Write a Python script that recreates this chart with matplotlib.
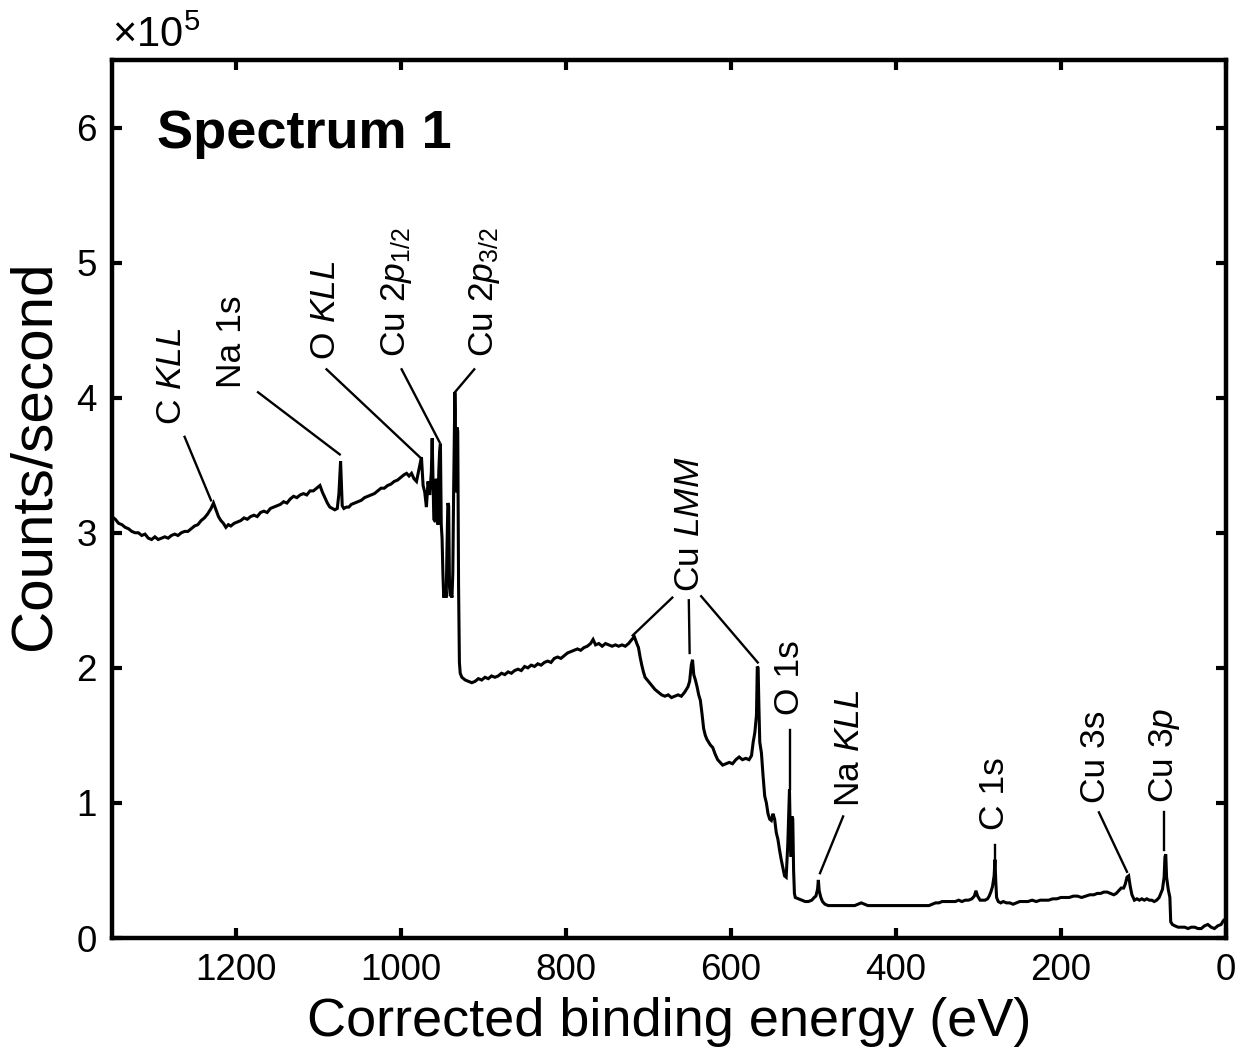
import numpy as np
import matplotlib
matplotlib.use('Agg')
import matplotlib.pyplot as plt

plt.rcParams['font.family'] = ['Liberation Sans', 'DejaVu Sans']
plt.rcParams['mathtext.fontset'] = 'custom'
plt.rcParams['mathtext.rm'] = 'Liberation Sans'
plt.rcParams['mathtext.it'] = 'Liberation Sans:italic'
plt.rcParams['mathtext.bf'] = 'Liberation Sans:bold'

# ---- spectrum data: (binding energy eV, counts/s in units of 1e5) ----
survey_high = [
    (1350, 3.12), (1346, 3.10), (1342, 3.07), (1338, 3.06), (1334, 3.04), (1330, 3.03),
    (1326, 3.01), (1322, 3.00), (1318, 3.00), (1314, 2.98), (1310, 2.99), (1306, 2.96),
    (1302, 2.95), (1298, 2.97), (1294, 2.95), (1290, 2.96), (1286, 2.97), (1282, 2.96),
    (1278, 2.98), (1274, 2.99), (1270, 2.98), (1266, 3.00), (1262, 3.01), (1258, 3.01),
    (1254, 3.03), (1250, 3.05), (1246, 3.06), (1242, 3.09), (1238, 3.11), (1234, 3.14),
    (1230, 3.18), (1227, 3.22), (1224, 3.17), (1221, 3.12), (1218, 3.09), (1215, 3.07),
    (1212, 3.04), (1209, 3.06), (1206, 3.05), (1202, 3.07), (1198, 3.08), (1194, 3.09),
    (1190, 3.11), (1186, 3.10), (1182, 3.12), (1178, 3.13), (1174, 3.12), (1170, 3.15),
    (1166, 3.16), (1162, 3.15), (1158, 3.18), (1154, 3.19), (1150, 3.20), (1146, 3.21),
    (1142, 3.23), (1138, 3.22), (1134, 3.25), (1130, 3.27), (1126, 3.26), (1122, 3.28),
    (1118, 3.29), (1114, 3.28), (1110, 3.31), (1106, 3.31), (1102, 3.33), (1098, 3.35),
    (1095, 3.30), (1092, 3.26), (1089, 3.22), (1086, 3.19), (1083, 3.18), (1080, 3.17),
    (1077, 3.18), (1075, 3.29), (1073, 3.53), (1071, 3.20), (1069, 3.18), (1066, 3.19),
    (1063, 3.19), (1060, 3.21), (1056, 3.22), (1052, 3.23), (1048, 3.24), (1044, 3.26),
    (1040, 3.27), (1036, 3.28), (1032, 3.29), (1028, 3.31), (1024, 3.33), (1020, 3.33),
    (1016, 3.35), (1012, 3.36), (1008, 3.38), (1004, 3.39), (1000, 3.41), (996, 3.43),
    (993, 3.44), (990, 3.42), (987, 3.44), (984, 3.40), (981, 3.38),
]

cu2p_region = [
    (978, 3.47), (975, 3.56), (973, 3.35), (971, 3.30), (969, 3.19), (967, 3.38),
    (965, 3.28), (963, 3.45), (962, 3.70), (961, 3.40), (960, 3.10), (958, 3.08),
    (957, 3.40), (955, 3.06), (954, 3.45), (953, 3.60), (952, 3.66), (951, 3.06),
    (950, 2.96), (949, 2.70), (948, 2.52), (947, 2.55), (946, 2.58), (945, 2.52),
    (944, 2.90), (943, 3.22), (942, 3.20), (941, 2.60), (940, 2.53), (939, 2.55),
    (938, 2.52), (937, 2.70), (936, 3.30), (935, 3.80), (934.5, 4.04), (934, 3.90),
    (933, 3.30), (932, 3.78), (931, 3.75), (930, 2.60), (929, 2.04), (928, 1.96),
    (926, 1.93),
]

background_mid = [
    (922, 1.91), (918, 1.90), (914, 1.89), (910, 1.90), (906, 1.92), (902, 1.91),
    (898, 1.93), (894, 1.92), (890, 1.94), (886, 1.93), (882, 1.94), (878, 1.96),
    (874, 1.95), (870, 1.97), (866, 1.96), (862, 1.98), (858, 1.99), (854, 1.98),
    (850, 2.01), (846, 2.00), (842, 2.02), (838, 2.01), (834, 2.03), (830, 2.02),
    (826, 2.04), (822, 2.05), (818, 2.04), (814, 2.07), (810, 2.08), (806, 2.07),
    (802, 2.09), (798, 2.11), (794, 2.12), (790, 2.13), (786, 2.14), (782, 2.13),
    (778, 2.15), (774, 2.16), (770, 2.18), (767, 2.21), (764, 2.17), (760, 2.18),
    (756, 2.16), (752, 2.18), (748, 2.17), (744, 2.16), (740, 2.17), (736, 2.16),
    (732, 2.17), (728, 2.16), (724, 2.18), (720, 2.21),
]

lmm_o1s_region = [
    (717, 2.23), (714, 2.18), (712, 2.15), (710, 2.08), (708, 2.02), (706, 1.97),
    (704, 1.93), (700, 1.90), (696, 1.87), (692, 1.84), (688, 1.82), (684, 1.80),
    (680, 1.79), (676, 1.80), (672, 1.78), (668, 1.79), (664, 1.80), (660, 1.79),
    (656, 1.82), (652, 1.86), (650, 1.90), (648, 2.02), (646.5, 2.06), (645, 1.95),
    (643, 1.91), (641, 1.86), (639, 1.80), (637, 1.76), (635, 1.66), (633, 1.55),
    (631, 1.50), (629, 1.47), (627, 1.45), (625, 1.43), (622, 1.41), (619, 1.36),
    (616, 1.32), (613, 1.30), (610, 1.28), (606, 1.29), (602, 1.30), (598, 1.29),
    (594, 1.32), (590, 1.34), (586, 1.32), (582, 1.33), (578, 1.32), (575, 1.35),
    (573, 1.45), (571, 1.52), (569, 1.65), (568, 2.01), (567, 2.00), (566, 1.70),
    (565, 1.45), (563, 1.37), (561, 1.20), (559, 1.05), (557, 1.00), (555, 0.92),
    (553, 0.88), (551, 0.87), (549, 0.92), (547, 0.88), (545, 0.78), (543, 0.73),
    (541, 0.65), (539, 0.58), (537, 0.52), (535, 0.46), (533, 0.45), (531, 0.70),
    (529, 1.10), (528, 0.75), (527, 0.60), (526, 0.90), (525, 0.88), (524, 0.50),
    (523, 0.33),
]

survey_low = [
    (522, 0.30), (518, 0.29), (514, 0.28), (510, 0.27), (506, 0.27), (502, 0.28),
    (499, 0.30), (497, 0.31), (495, 0.36), (494, 0.43), (493, 0.35), (491, 0.30),
    (489, 0.27), (486, 0.25), (482, 0.24), (478, 0.24), (474, 0.24), (470, 0.24),
    (466, 0.24), (462, 0.24), (458, 0.24), (454, 0.24), (450, 0.24), (446, 0.25),
    (442, 0.26), (438, 0.25), (434, 0.24), (430, 0.24), (425, 0.24), (420, 0.24),
    (415, 0.24), (410, 0.24), (405, 0.24), (400, 0.24), (395, 0.24), (390, 0.24),
    (385, 0.24), (380, 0.24), (375, 0.24), (370, 0.24), (365, 0.24), (360, 0.24),
    (356, 0.25), (352, 0.26), (348, 0.26), (344, 0.27), (340, 0.27), (336, 0.27),
    (332, 0.27), (328, 0.27), (324, 0.28), (320, 0.27), (316, 0.28), (312, 0.28),
    (308, 0.29), (305, 0.31), (303, 0.35), (301, 0.31), (298, 0.28), (295, 0.28),
    (292, 0.28), (289, 0.29), (287, 0.31), (285, 0.34), (283, 0.38), (281, 0.46),
    (280, 0.58), (279, 0.42), (278, 0.30), (276, 0.27), (273, 0.26), (270, 0.27),
    (266, 0.26), (262, 0.26), (258, 0.25), (254, 0.26), (250, 0.27), (245, 0.27),
    (240, 0.27), (235, 0.28), (230, 0.27), (225, 0.28), (220, 0.28), (215, 0.28),
    (210, 0.29), (205, 0.29), (200, 0.30), (195, 0.30), (190, 0.30), (185, 0.31),
    (180, 0.31), (175, 0.30), (170, 0.31), (165, 0.32), (160, 0.32), (156, 0.33),
    (152, 0.33), (148, 0.34), (144, 0.34), (140, 0.33), (136, 0.32), (133, 0.33),
    (130, 0.35), (127, 0.37), (124, 0.37), (122, 0.40), (120, 0.45), (118, 0.46),
    (116, 0.38), (114, 0.32), (111, 0.28), (108, 0.29), (105, 0.28), (102, 0.29),
    (99, 0.28), (96, 0.29), (93, 0.28), (90, 0.28), (87, 0.27), (84, 0.28),
    (81, 0.30), (79, 0.33), (77, 0.36), (75, 0.45), (74, 0.60), (73, 0.62),
    (72, 0.45), (70, 0.36), (68, 0.30), (67, 0.12), (65, 0.10), (62, 0.09),
    (58, 0.08), (54, 0.08), (50, 0.08), (46, 0.07), (42, 0.08), (38, 0.08),
    (34, 0.07), (30, 0.07), (26, 0.09), (22, 0.10), (18, 0.08), (14, 0.07),
    (10, 0.09), (6, 0.10), (3, 0.13), (1, 0.14),
]

x_ticks = [1200, 1000, 800, 600, 400, 200, 0]
y_ticks = [0, 1, 2, 3, 4, 5, 6]

# ---- peak annotations ----
peak_labels = [r'C $\mathit{KLL}$', 'Na 1s', r'O $\mathit{KLL}$',
               r'Cu 2$\mathit{p}_{\mathrm{1/2}}$', r'Cu 2$\mathit{p}_{\mathrm{3/2}}$',
               r'Cu $\mathit{LMM}$', 'O 1s', r'Na $\mathit{KLL}$', 'C 1s',
               'Cu 3s', r'Cu 3$\mathit{p}$']
label_x = [1278, 1205, 1091, 1005, 898, 650, 528.5, 456, 280, 158, 75]
label_y = [3.80, 4.07, 4.28, 4.30, 4.30, 2.56, 1.65, 0.97, 0.80, 1.00, 1.00]
leaders = [
    ((1262, 3.71), (1230, 3.24)),
    ((1173, 4.04), (1074, 3.58)),
    ((1090, 4.21), (977, 3.56)),
    ((999, 4.21), (953, 3.67)),
    ((911, 4.21), (934.5, 4.04)),
    ((671, 2.52), (719, 2.24)),
    ((651, 2.50), (650, 2.11)),
    ((636, 2.53), (567.5, 2.04)),
    ((528.5, 1.54), (528.5, 1.10)),
    ((464, 0.90), (492, 0.48)),
    ((280, 0.69), (280, 0.58)),
    ((154, 0.93), (120, 0.49)),
    ((75, 0.93), (75, 0.65)),
]

# ---- assemble spectrum ----
spectrum = survey_high + cu2p_region + background_mid + lmm_o1s_region + survey_low
energy = np.array([p[0] for p in spectrum])
counts = np.array([p[1] for p in spectrum])

fig = plt.figure(figsize=(12.41, 10.57), dpi=100)
ax = fig.add_axes([112 / 1241, 1 - 938 / 1057, (1226 - 112) / 1241, (938 - 60) / 1057])

ax.plot(energy, counts, color='black', lw=2.2, solid_joinstyle='miter')

for (x1, y1), (x2, y2) in leaders:
    ax.plot([x1, x2], [y1, y2], color='black', lw=1.7)

for txt, lx, ly in zip(peak_labels, label_x, label_y):
    ax.text(lx, ly, txt, rotation=90, ha='center', va='bottom', fontsize=25.5)

ax.set_xlim(1350, 0)
ax.set_ylim(0, 6.5)
ax.set_xticks(x_ticks)
ax.set_xticklabels([str(t) for t in x_ticks])
ax.set_yticks(y_ticks)
ax.set_yticklabels([str(t) for t in y_ticks])

for s in ax.spines.values():
    s.set_linewidth(3.2)
ax.tick_params(direction='in', length=7, width=3, top=True, right=True,
               labelsize=26.5, pad=11, colors='black')
ax.tick_params(axis='x', labeltop=False)

ax.set_xlabel('Corrected binding energy (eV)', fontsize=39, labelpad=6)
ax.set_ylabel('Counts/second', fontsize=42)
ax.yaxis.set_label_coords(-0.045, 0.55)

ax.text(0.0, 1.004, r'$\times10^{5}$', transform=ax.transAxes, ha='left', va='bottom',
        fontsize=30)
ax.text(1296, 5.85, 'Spectrum 1', fontsize=39, fontweight='bold', ha='left', va='baseline')

fig.savefig('out.png', dpi=100)
